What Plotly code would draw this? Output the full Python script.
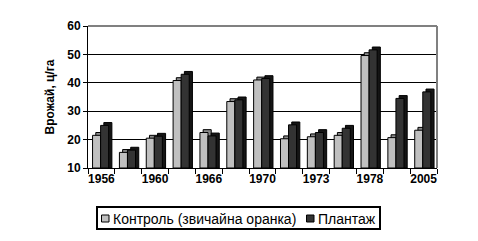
import plotly.graph_objects as go

labels = ["1956", "", "1960", "", "1966", "", "1970", "", "1973", "", "1978", "", "2005"]
control = [21.5, 15.5, 20.5, 40.8, 22.5, 33.4, 41.0, 20.3, 21.0, 21.5, 49.6, 20.7, 23.3]
plantazh = [25.0, 16.3, 21.2, 43.0, 21.3, 34.0, 41.5, 25.2, 22.5, 24.0, 51.6, 34.5, 36.8]
names = ["Контроль (звичайна оранка)", "Плантаж"]
colors_front = ["#C0C0C0", "#333333"]
colors_side = ["#8a8a8a", "#151515"]

x = list(range(len(labels)))
W = 0.3
DX = 0.12
DY = 1.0
font = "Liberation Sans, Arial, sans-serif"

WIDTH, HEIGHT = 478, 241
ML, MR, MT, MB = 88, 41, 26, 73
PW = WIDTH - ML - MR
PH = HEIGHT - MT - MB


def px(xp):
    return (xp - ML) / PW


def py(yp):
    return (HEIGHT - MB - yp) / PH


fig = go.Figure()


def add_series(vals, name, front, side, off):
    fig.add_trace(go.Bar(x=x, y=[v + DY - 10 for v in vals], base=10, width=W, offset=off + DX,
                         marker=dict(color=side, line=dict(color="black", width=1)),
                         showlegend=False, hoverinfo="skip"))
    fig.add_trace(go.Bar(x=x, y=[v - 10 for v in vals], base=10, width=W, offset=off, name=name,
                         marker=dict(color=front, line=dict(color="black", width=1)),
                         showlegend=False))


add_series(control, names[0], colors_front[0], colors_side[0], -0.33)
add_series(plantazh, names[1], colors_front[1], colors_side[1], -0.03)

annotations = []
shapes = [
    # legend frame
    dict(type="rect", xref="paper", yref="paper", x0=px(97), x1=px(380), y0=py(229), y1=py(207),
         line=dict(color="black", width=2)),
    # grey plot-area frame (top and right)
    dict(type="line", xref="paper", yref="paper", x0=1, x1=1, y0=0, y1=1,
         line=dict(color="#808080", width=2)),
    dict(type="line", xref="paper", yref="paper", x0=0, x1=1, y0=1, y1=1,
         line=dict(color="#808080", width=2)),
]
leg_items = [(101.5, 111.5), (306.5, 316.5)]
for (sx, tx), name, col in zip(leg_items, names, colors_front):
    shapes.append(dict(type="rect", xref="paper", yref="paper", x0=px(sx), x1=px(sx + 7.5),
                       y0=py(222), y1=py(215), line=dict(color="black", width=1), fillcolor=col))
    annotations.append(dict(text=name, xref="paper", yref="paper", x=px(tx), y=py(218.5),
                            xanchor="left", yanchor="middle", showarrow=False,
                            font=dict(size=14, family=font, color="black"), borderpad=0))

fig.update_layout(
    width=WIDTH, height=HEIGHT,
    margin=dict(l=ML, r=MR, t=MT, b=MB),
    paper_bgcolor="white", plot_bgcolor="white",
    barmode="overlay",
    font=dict(family=font, size=12, color="black"),
    showlegend=False,
    xaxis=dict(range=[-0.5, 12.5], tickmode="array", tickvals=[0, 2, 4, 6, 8, 10, 12],
               ticktext=[labels[i] for i in [0, 2, 4, 6, 8, 10, 12]],
               ticks="", showgrid=False, showline=True, linecolor="black", linewidth=1,
               tickfont=dict(size=12, family=font, weight="bold"),
               minor=dict(ticks="outside", tick0=-0.5, dtick=1, ticklen=5, tickcolor="black", showgrid=False),
               zeroline=False),
    yaxis=dict(range=[10, 60], tickvals=[10, 20, 30, 40, 50, 60], ticks="outside", ticklen=4,
               tickcolor="black", showgrid=True, gridcolor="black", gridwidth=1,
               showline=True, linecolor="black", linewidth=1, zeroline=False,
               tickfont=dict(size=12, family=font, weight="bold"),
               title=dict(text="Врожай, ц/га", font=dict(size=12, family=font, weight="bold"), standoff=10)),
    shapes=shapes,
    annotations=annotations,
)

fig.write_html("out.html")
